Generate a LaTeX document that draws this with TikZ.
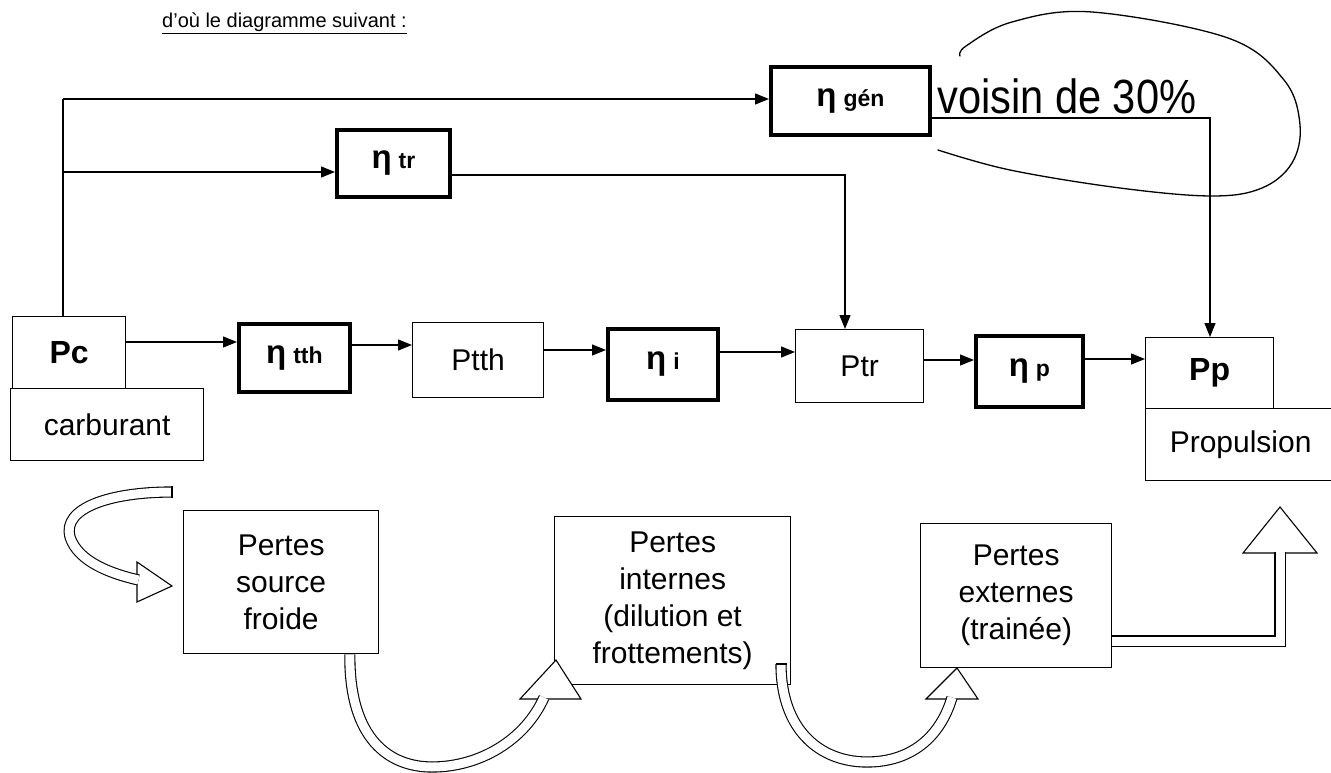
\documentclass[tikz,border=0pt]{standalone}
\usepackage{fontspec}
\setmainfont{Liberation Sans}
\usetikzlibrary{calc,arrows.meta}
\newcommand\etalab[1]{{\fontsize{33}{34}\selectfont η}\hspace{7pt}{\fontsize{23}{24}\selectfont #1}}
\begin{document}
\begin{tikzpicture}[x=1pt,y=-1pt,
  thinbox/.style={draw, line width=1.3pt, anchor=north west, inner sep=0pt, align=center,
    font=\fontsize{30}{37}\selectfont},
  thickbox/.style={draw, line width=3.8pt, anchor=north west, inner sep=0pt,
    font=\bfseries},
  boldlab/.style={font=\bfseries\fontsize{32}{34}\selectfont},
  wire/.style={line width=1.3pt},
  flow/.style={line width=1.3pt, -{Triangle[length=14pt,width=11pt]}},
  hollow/.style={draw, double=white, double distance=9pt, line width=1.1pt},
  head/.style={draw, fill=white, line width=1.1pt, line join=miter},
  hand/.style={line width=1.3pt, line cap=round}
]
\useasboundingbox (0,0) rectangle (1331,773);
\fill[white] (0,0) rectangle (1331,773);

% title
\node[anchor=base west, inner sep=0pt, font=\fontsize{20}{22}\selectfont] (title) at (162,28)
  {\underline{d’où le diagramme suivant :}};

% main row
\node[thinbox, boldlab, minimum width=113pt, minimum height=72pt] (pc) at (12,316) {Pc};
\node[thinbox, minimum width=193pt, minimum height=72pt] (carb) at (10,388) {carburant};
\node[thickbox, minimum width=111pt, minimum height=68pt] (ntth) at (237,322) {\etalab{tth}};
\node[thinbox, minimum width=131pt, minimum height=75pt] (ptth) at (412,322) {Ptth};
\node[thickbox, minimum width=110pt, minimum height=71pt] (ni) at (606,327) {\etalab{i}};
\node[thinbox, minimum width=128pt, minimum height=73pt] (ptr) at (795,329) {Ptr};
\node[thickbox, minimum width=107pt, minimum height=71pt] (np) at (974,334) {\etalab{p}};
\node[thinbox, boldlab, minimum width=128pt, minimum height=71pt] (pp) at (1145,337) {Pp};
\node[thinbox, minimum width=190pt, minimum height=72pt] (prop) at (1145,408) {Propulsion};

% upper branches
\node[thickbox, minimum width=113pt, minimum height=67pt] (ntr) at (335,128) {\etalab{tr}};
\node[thickbox, minimum width=159pt, minimum height=68pt] (ngen) at (769,65) {\etalab{gén}};

% losses
\node[thinbox, minimum width=195pt, minimum height=143pt] (psf) at (183,510) {Pertes\\source\\froide};
\node[thinbox, minimum width=236pt, minimum height=168pt] (pin) at (554,516) {Pertes\\internes\\(dilution et\\frottements)};
\node[thinbox, minimum width=191pt, minimum height=144pt] (pex) at (920,523) {Pertes\\externes\\(trainée)};

% main row arrows
\draw[flow] (pc.east |- 0,342) -- (ntth.west |- 0,342);
\draw[flow] (ntth.east |- 0,345) -- (ptth.west |- 0,345);
\draw[flow] (ptth.east |- 0,350) -- (ni.west |- 0,350);
\draw[flow] (ni.east |- 0,352) -- (ptr.west |- 0,352);
\draw[flow] (ptr.east |- 0,360) -- (np.west |- 0,360);
\draw[flow] (np.east |- 0,359) -- (pp.west |- 0,359);

% branches
\coordinate (j1) at (63,99);
\coordinate (j2) at (63,172);
\coordinate (c1) at (845,175);
\coordinate (c2) at (1210,118);
\draw[wire] (j1 |- pc.north) -- (j1);
\draw[flow] (j1) -- (ngen.west |- j1);
\draw[flow] (j2) -- (ntr.west |- j2);
\draw[flow] (ntr.east |- c1) -- (c1) -- (c1 |- ptr.north);
\draw[flow] (ngen.east |- c2) -- (c2) -- (c2 |- pp.north);

% handwritten note
\node[anchor=base west, inner sep=0pt, font=\fontsize{40}{44}\selectfont] (note) at (937,114)
  {\scalebox{1.04}[1.2]{voisin de 30\%}};
\draw[hand] plot[smooth, tension=0.6] coordinates {(938,150) (1010,170) (1120,188) (1212,196)
  (1262,188) (1292,163) (1300,125) (1284,80) (1228,38) (1092,12) (1012,22) (966,46) (960,56)};

% hollow arrows
% 1: into Pertes source froide
\coordinate (h1a) at (137,562);
\coordinate (h1t) at (172,586);
\coordinate (h1b) at (137,602);
\draw[head] (h1a) -- (h1t) -- (h1b) -- cycle;
\draw[hollow] (172,492) .. controls (110,492) and (62,508) .. (70,537)
  .. controls (78,562) and (112,574) .. (138.5,580);
\draw[line width=1.1pt] (172,486) -- (172,498);

% 2: psf -> pin
\coordinate (h2a) at (520,699);
\coordinate (h2t) at (556,660);
\coordinate (h2b) at (581,699);
\draw[head] (h2a) -- (h2t) -- (h2b) -- cycle;
\draw[hollow] ($(psf.south west)!0.85!(psf.south east)$) .. controls (349,740) and (390,767) .. (432,767)
  .. controls (480,767) and (525,740) .. (544,697.5);

% 3: pin -> pex
\coordinate (h3a) at (926,699);
\coordinate (h3t) at (957,668);
\coordinate (h3b) at (978,699);
\draw[head] (h3a) -- (h3t) -- (h3b) -- cycle;
\draw[hollow] (781,664) .. controls (781,730) and (820,762) .. (867,762)
  .. controls (910,762) and (940,738) .. (952,697.5);
\draw[line width=1.1pt] (775.5,664) -- (786.5,664);

% 4: pex -> pp
\coordinate (h4a) at (1243,553);
\coordinate (h4t) at (1280,507);
\coordinate (h4b) at (1317,553);
\draw[head] (h4a) -- (h4t) -- (h4b) -- cycle;
\draw[hollow, line join=miter] (pex.east |- 0,641) -- (1280,641) -- (1280,551.5);
\end{tikzpicture}
\end{document}
